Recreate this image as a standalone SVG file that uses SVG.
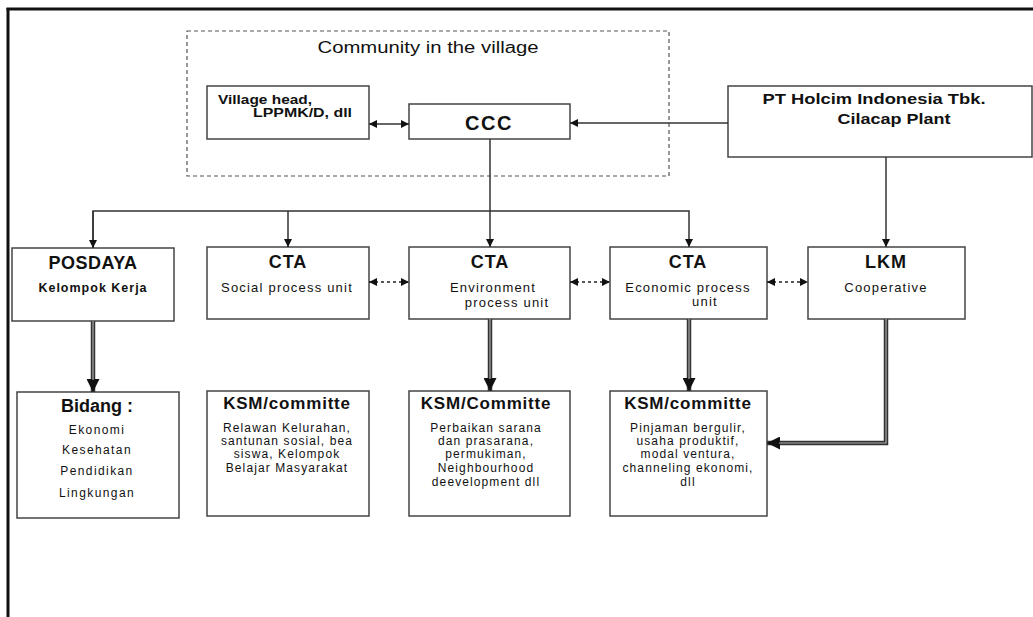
<svg xmlns="http://www.w3.org/2000/svg" width="1033" height="617" viewBox="0 0 1033 617">
<defs>
<style>
.box{fill:#fff;stroke:#444;stroke-width:1.5}
.dash{fill:none;stroke:#555;stroke-width:1.2;stroke-dasharray:4,3}
.t{font-family:"Liberation Sans",Arial,sans-serif;fill:#111;text-anchor:middle}
.b{font-weight:bold}
.sub{font-size:13px;letter-spacing:1.2px}
.body{font-size:12px;letter-spacing:1.1px}
.ksm{font-size:17px;font-weight:bold;letter-spacing:0.8px}
.ln{fill:none;stroke:#333;stroke-width:1.5}
.dl{fill:none;stroke:#222;stroke-width:1.3;stroke-dasharray:3,3}
.dbl{fill:none;stroke:#333;stroke-width:4.5}
.dbi{fill:none;stroke:#aaa;stroke-width:1.2}
</style>
<marker id="ah" viewBox="0 0 10 10" refX="10" refY="5" markerWidth="8" markerHeight="8" markerUnits="userSpaceOnUse" orient="auto-start-reverse"><path d="M0,0 L10,5 L0,10 z" fill="#111"/></marker>
<marker id="ahb" viewBox="0 0 10 10" refX="10" refY="5" markerWidth="13" markerHeight="13" markerUnits="userSpaceOnUse" orient="auto"><path d="M0,0 L10,5 L0,10 z" fill="#111"/></marker>
</defs>
<rect width="1033" height="617" fill="#fff"/>
<g id="frame">
<line x1="6.5" y1="9" x2="1033" y2="9" stroke="#111" stroke-width="3"/>
<line x1="8" y1="8" x2="8" y2="617" stroke="#111" stroke-width="3"/>
</g>
<g id="community">
<rect class="dash" x="187" y="31" width="482" height="145"/>
<text class="t" x="428" y="53" font-size="16" textLength="221" lengthAdjust="spacingAndGlyphs">Community in the village</text>
</g>
<g id="village-head">
<rect class="box" x="207" y="86" width="162" height="53"/>
<text class="t b" x="218" y="104" font-size="12.5" style="text-anchor:start" textLength="94" lengthAdjust="spacingAndGlyphs">Village head,</text>
<text class="t b" x="253" y="117" font-size="12.5" style="text-anchor:start" textLength="99" lengthAdjust="spacingAndGlyphs">LPPMK/D, dll</text>
</g>
<g id="ccc">
<rect class="box" x="409" y="104" width="161" height="35"/>
<text class="t b" x="489" y="130" font-size="20" letter-spacing="1.5">CCC</text>
</g>
<g id="holcim">
<rect class="box" x="728" y="86" width="304" height="71"/>
<text class="t b" x="874" y="104" font-size="15" textLength="223" lengthAdjust="spacingAndGlyphs">PT Holcim Indonesia Tbk.</text>
<text class="t b" x="894" y="124" font-size="15" textLength="113" lengthAdjust="spacingAndGlyphs">Cilacap Plant</text>
</g>
<g id="posdaya">
<rect class="box" x="12" y="248" width="162" height="73"/>
<text class="t b" x="93" y="269" font-size="18" letter-spacing="0.5">POSDAYA</text>
<text class="t b" x="93" y="292" font-size="12.5" letter-spacing="1">Kelompok Kerja</text>
</g>
<g id="cta-social">
<rect class="box" x="207" y="247" width="162" height="72"/>
<text class="t b" x="288" y="268" font-size="18" letter-spacing="1">CTA</text>
<text class="t sub" x="287" y="292">Social process unit</text>
</g>
<g id="cta-environment">
<rect class="box" x="409" y="247" width="161" height="72"/>
<text class="t b" x="490" y="268" font-size="18" letter-spacing="1">CTA</text>
<text class="t sub" x="493" y="292">Environment</text>
<text class="t sub" x="507" y="307">process unit</text>
</g>
<g id="cta-economic">
<rect class="box" x="610" y="247" width="157" height="72"/>
<text class="t b" x="688" y="268" font-size="18" letter-spacing="1">CTA</text>
<text class="t sub" x="688" y="292">Economic process</text>
<text class="t sub" x="705" y="306">unit</text>
</g>
<g id="lkm">
<rect class="box" x="808" y="247" width="157" height="72"/>
<text class="t b" x="886" y="268" font-size="18" letter-spacing="1">LKM</text>
<text class="t sub" x="886" y="292">Cooperative</text>
</g>
<g id="bidang">
<rect class="box" x="17" y="392" width="162" height="126"/>
<text class="t b" x="97" y="412" font-size="18">Bidang :</text>
<text class="t" x="97" y="434" font-size="12" letter-spacing="1.4">Ekonomi</text>
<text class="t" x="97" y="454" font-size="12" letter-spacing="1.4">Kesehatan</text>
<text class="t" x="97" y="475" font-size="12" letter-spacing="1.4">Pendidikan</text>
<text class="t" x="97" y="497" font-size="12" letter-spacing="1.4">Lingkungan</text>
</g>
<g id="ksm-social">
<rect class="box" x="207" y="391" width="162" height="125"/>
<text class="t ksm" x="287" y="409">KSM/committe</text>
<text class="t body" x="287" y="432">Relawan Kelurahan,</text>
<text class="t body" x="287" y="445">santunan sosial, bea</text>
<text class="t body" x="287" y="458">siswa, Kelompok</text>
<text class="t body" x="287" y="472">Belajar Masyarakat</text>
</g>
<g id="ksm-environment">
<rect class="box" x="409" y="391" width="161" height="125"/>
<text class="t ksm" x="486" y="409">KSM/Committe</text>
<text class="t body" x="486" y="432">Perbaikan sarana</text>
<text class="t body" x="486" y="445">dan prasarana,</text>
<text class="t body" x="486" y="458">permukiman,</text>
<text class="t body" x="486" y="472">Neighbourhood</text>
<text class="t body" x="486" y="486">deevelopment dll</text>
</g>
<g id="ksm-economic">
<rect class="box" x="610" y="391" width="157" height="125"/>
<text class="t ksm" x="688" y="409">KSM/committe</text>
<text class="t body" x="688" y="432">Pinjaman bergulir,</text>
<text class="t body" x="688" y="445">usaha produktif,</text>
<text class="t body" x="688" y="458">modal ventura,</text>
<text class="t body" x="688" y="472">channeling ekonomi,</text>
<text class="t body" x="688" y="486">dll</text>
</g>
<g id="connectors">
<line class="ln" x1="369" y1="124" x2="409" y2="124" marker-start="url(#ah)" marker-end="url(#ah)"/>
<line class="ln" x1="728" y1="123" x2="570" y2="123" marker-end="url(#ah)"/>
<line class="ln" x1="490" y1="139" x2="490" y2="247" marker-end="url(#ah)"/>
<polyline class="ln" points="93,248 93,211 689,211 689,247" marker-end="url(#ah)"/>
<line class="ln" x1="93" y1="211" x2="93" y2="248" marker-end="url(#ah)"/>
<line class="ln" x1="288" y1="211" x2="288" y2="247" marker-end="url(#ah)"/>
<line class="ln" x1="886" y1="157" x2="886" y2="247" marker-end="url(#ah)"/>
<line class="dl" x1="369" y1="282" x2="409" y2="282" marker-start="url(#ah)" marker-end="url(#ah)"/>
<line class="dl" x1="570" y1="282" x2="610" y2="282" marker-start="url(#ah)" marker-end="url(#ah)"/>
<line class="dl" x1="767" y1="282" x2="808" y2="282" marker-start="url(#ah)" marker-end="url(#ah)"/>
<line class="dbl" x1="93" y1="321" x2="93" y2="392" marker-end="url(#ahb)"/>
<line class="dbi" x1="93" y1="321" x2="93" y2="380"/>
<line class="dbl" x1="490" y1="319" x2="490" y2="391" marker-end="url(#ahb)"/>
<line class="dbi" x1="490" y1="319" x2="490" y2="379"/>
<line class="dbl" x1="689" y1="319" x2="689" y2="391" marker-end="url(#ahb)"/>
<line class="dbi" x1="689" y1="319" x2="689" y2="379"/>
<polyline class="dbl" points="886,319 886,443 767,443" marker-end="url(#ahb)"/>
<polyline class="dbi" points="886,319 886,443 779,443"/>
</g>
</svg>
